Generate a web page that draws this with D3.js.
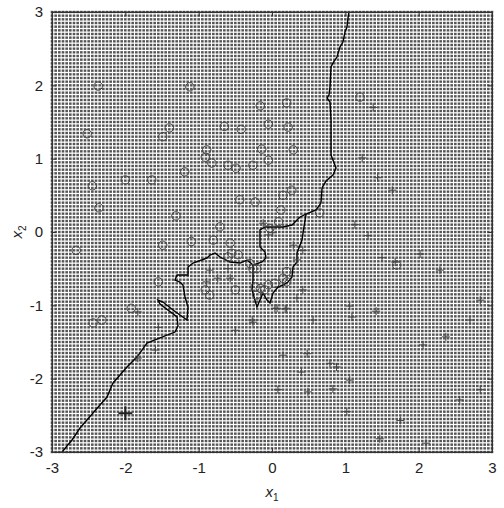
<!DOCTYPE html>
<html>
<head>
<meta charset="utf-8">
<script src="https://cdn.jsdelivr.net/npm/d3@7"></script>
<style>
  body { margin: 0; background: #fff; }
  text { font-family: "Liberation Sans", Arial, sans-serif; fill: #222; }
</style>
</head>
<body>
<div id="chart"></div>
<script>
var width = 504,
  height = 508;
var margin = {top: 12, left: 52};
var size = 440;

// class 1 (circles)
var circleX = [-2.37,-1.12,-2.52,-1.40,-1.49,-0.16,0.20,-0.65,-0.42,-0.05,0.22,1.20,-0.14,-0.89,-0.91,-0.82,-0.60,-0.49,-0.26,-0.05,0.29,-1.19,-1.64,-2.45,-2.36,-2.67,-2.0,-1.31,-1.49,-1.10,-0.80,-0.71,-0.57,-0.55,-0.46,-0.60,-1.55,-0.91,-0.85,-0.50,-0.30,-0.26,-0.21,0.20,0.15,0.04,-0.05,-0.16,-0.23,-0.21,-0.10,0.20,0.09,-0.03,-0.44,-0.23,0.15,0.27,0.12,0.65,1.70,-2.44,-2.32,-1.92];
var circleY = [1.99,1.98,1.34,1.42,1.30,1.72,1.76,1.44,1.40,1.47,1.43,1.84,1.13,1.12,1.02,0.94,0.91,0.87,0.91,0.98,1.12,0.82,0.71,0.63,0.33,-0.25,0.71,0.22,-0.18,-0.13,-0.11,0.07,-0.15,-0.29,-0.31,-0.34,-0.68,-0.79,-0.86,-0.79,-0.43,-0.50,-0.50,-0.54,-0.63,-0.70,-0.72,-0.77,-0.75,-0.86,-0.79,-0.68,0.14,0.05,0.44,0.41,0.50,0.57,0.30,0.26,-0.45,-1.24,-1.20,-1.04];

// class 2 (plus)
var plusX = [1.38,0.04,0.18,-0.26,0.56,1.06,1.09,1.42,2.06,2.37,0.15,0.48,0.79,0.88,0.40,1.06,0.08,0.49,0.83,1.02,-1.83,-1.55,-1.59,-1.83,2.10,-0.12,0.01,-0.05,0.29,0.42,0.34,-0.85,-0.74,-0.60,-0.57,-0.89,-0.27,-0.50,0.07,0.20,0.42,0.34,1.23,1.44,1.64,1.13,1.31,1.50,1.68,2.02,2.29,2.84,2.70,2.56,2.84,1.75,1.47];
var plusY = [1.70,-1.04,-1.05,-1.23,-1.20,-1.01,-1.16,-1.08,-1.54,-1.43,-1.68,-1.66,-1.79,-1.84,-1.91,-2.02,-2.15,-2.18,-2.14,-2.45,-1.09,-1.30,-1.61,-1.72,-2.88,0.12,-0.01,-0.04,-0.18,-0.25,-0.38,-0.52,-0.63,-0.50,-0.63,-0.68,-1.20,-1.34,-1.04,-1.04,-0.79,-0.90,1.01,0.74,0.57,0.10,-0.05,-0.35,-0.41,-0.30,-0.52,-0.93,-1.20,-2.29,-2.15,-2.57,-2.82];

// test point
var testX = [-2.0];
var testY = [-2.47];

// decision boundary: main curve
var boundaryX = [1.050,1.036,1.023,0.995,0.968,0.927,0.886,0.832,0.805,0.791,0.777,0.750,0.791,0.805,0.805,0.873,0.832,0.736,0.682,0.668,0.600,0.464,0.382,0.341,0.273,0.150,-0.095,-0.164,-0.164,-0.095,-0.082,-0.136,-0.259,-0.341,-0.436,-0.573,-0.709,-0.777,-0.845,-0.886,-1.077,-1.145,-1.145,-1.295,-1.323,-1.255,-1.214,-1.186,-1.145,-1.159,-1.350,-1.486,-1.555,-1.527,-1.295,-1.282,-1.323,-1.527,-1.705,-1.841,-1.977,-2.168,-2.250,-2.441,-2.618,-2.727,-2.864];
var boundaryY = [3.000,2.918,2.796,2.727,2.591,2.523,2.386,2.305,2.250,1.977,1.868,1.827,1.773,1.527,1.050,0.873,0.777,0.695,0.600,0.395,0.300,0.245,0.205,0.164,0.095,0.068,0.068,0.027,-0.205,-0.273,-0.355,-0.409,-0.450,-0.382,-0.423,-0.409,-0.341,-0.286,-0.314,-0.355,-0.423,-0.477,-0.586,-0.586,-0.655,-0.682,-0.723,-0.886,-1.023,-1.200,-1.064,-0.955,-0.927,-0.982,-1.159,-1.282,-1.364,-1.445,-1.514,-1.705,-1.841,-2.059,-2.250,-2.468,-2.673,-2.836,-3.000];

// decision boundary: lobe below the origin
var lobeX = [-0.259,-0.259,-0.273,-0.205,-0.164,-0.123,-0.068,-0.027,0.014,0.082,0.150,0.218,0.273,0.286,0.341,0.341,0.409,0.423,0.464];
var lobeY = [-0.450,-0.655,-0.791,-1.023,-0.927,-0.832,-0.927,-0.968,-0.832,-0.750,-0.723,-0.682,-0.614,-0.477,-0.409,-0.286,-0.109,-0.014,0.245];

var ticks = [-3,-2,-1,0,1,2,3];

var svg = d3.select("#chart").append("svg")
  .attr("width", width)
  .attr("height", height);

var x = d3.scaleLinear().domain([-3, 3]).range([margin.left, margin.left + size]);
var y = d3.scaleLinear().domain([-3, 3]).range([margin.top + size, margin.top]);

// evaluation grid, drawn as small dots
var grid = d3.range(-3, 3.0001, 0.05);
var gridPts = [];
grid.forEach(function(gx) {
  grid.forEach(function(gy) { gridPts.push([gx, gy]); });
});

svg.append("g")
  .selectAll("rect")
  .data(gridPts)
  .enter().append("rect")
    .attr("x", function(d) { return x(d[0]) - 1.3; })
    .attr("y", function(d) { return y(d[1]) - 1.2; })
    .attr("width", 2.6)
    .attr("height", 2.4)
    .attr("fill", "#555");

// boundary lines
var line = d3.line()
  .x(function(d) { return x(d[0]); })
  .y(function(d) { return y(d[1]); });

svg.append("path")
  .datum(boundaryX.map(function(d, i) { return [d, boundaryY[i]]; }))
  .attr("d", line)
  .attr("fill", "none")
  .attr("stroke", "#000")
  .attr("stroke-width", 1.4);

svg.append("path")
  .datum(lobeX.map(function(d, i) { return [d, lobeY[i]]; }))
  .attr("d", line)
  .attr("fill", "none")
  .attr("stroke", "#000")
  .attr("stroke-width", 1.4);

// circles
svg.append("g")
  .selectAll("circle")
  .data(circleX.map(function(d, i) { return [d, circleY[i]]; }))
  .enter().append("circle")
    .attr("cx", function(d) { return x(d[0]); })
    .attr("cy", function(d) { return y(d[1]); })
    .attr("r", 4.2)
    .attr("fill", "none")
    .attr("stroke", "#444")
    .attr("stroke-width", 1);

// plus markers
function plus(g, px, py, half, sw, col) {
  g.append("path")
    .attr("d", "M" + (px - half) + "," + py + "H" + (px + half) + "M" + px + "," + (py - half) + "V" + (py + half))
    .attr("stroke", col)
    .attr("stroke-width", sw)
    .attr("fill", "none");
}
var pg = svg.append("g");
plusX.forEach(function(d, i) { plus(pg, x(d), y(plusY[i]), 4, 1, "#444"); });
testX.forEach(function(d, i) { plus(pg, x(d), y(testY[i]), 7, 2, "#222"); });

// axes box
svg.append("rect")
  .attr("x", margin.left)
  .attr("y", margin.top)
  .attr("width", size)
  .attr("height", size)
  .attr("fill", "none")
  .attr("stroke", "#333")
  .attr("stroke-width", 1);

var fmt = function(d) { return String(d); };
var xAxis = svg.append("g")
  .attr("transform", "translate(0," + (margin.top + size) + ")")
  .call(d3.axisBottom(x).tickValues(ticks).tickSizeInner(-4).tickSizeOuter(0).tickPadding(10).tickFormat(fmt));
var yAxis = svg.append("g")
  .attr("transform", "translate(" + margin.left + ",0)")
  .call(d3.axisLeft(y).tickValues(ticks).tickSizeInner(-4).tickSizeOuter(0).tickPadding(9).tickFormat(fmt));
var xTop = svg.append("g")
  .attr("transform", "translate(0," + margin.top + ")")
  .call(d3.axisTop(x).tickValues(ticks).tickSizeInner(-4).tickSizeOuter(0).tickFormat(""));
var yRight = svg.append("g")
  .attr("transform", "translate(" + (margin.left + size) + ",0)")
  .call(d3.axisRight(y).tickValues(ticks).tickSizeInner(-4).tickSizeOuter(0).tickFormat(""));

[xAxis, yAxis, xTop, yRight].forEach(function(a) {
  a.select(".domain").attr("stroke", "#333");
  a.selectAll(".tick line").attr("stroke", "#333");
  a.selectAll("text")
    .attr("fill", "#222")
    .style("font-size", "15px")
    .style("font-family", "'Liberation Sans', Arial, sans-serif");
});

// axis labels
var xl = svg.append("text")
  .attr("x", x(0))
  .attr("y", 497)
  .attr("text-anchor", "middle")
  .attr("fill", "#222")
  .style("font-size", "15px");
xl.append("tspan").attr("fill", "#222").style("font-style", "italic").text("x");
xl.append("tspan").attr("fill", "#222").attr("dy", 4).style("font-size", "10px").text("1");

var yl = svg.append("text")
  .attr("transform", "translate(22," + y(0) + ") rotate(-90)")
  .attr("text-anchor", "middle")
  .attr("fill", "#222")
  .style("font-size", "15px");
yl.append("tspan").attr("fill", "#222").style("font-style", "italic").text("x");
yl.append("tspan").attr("fill", "#222").attr("dy", 4).style("font-size", "10px").text("2");
</script>
</body>
</html>
